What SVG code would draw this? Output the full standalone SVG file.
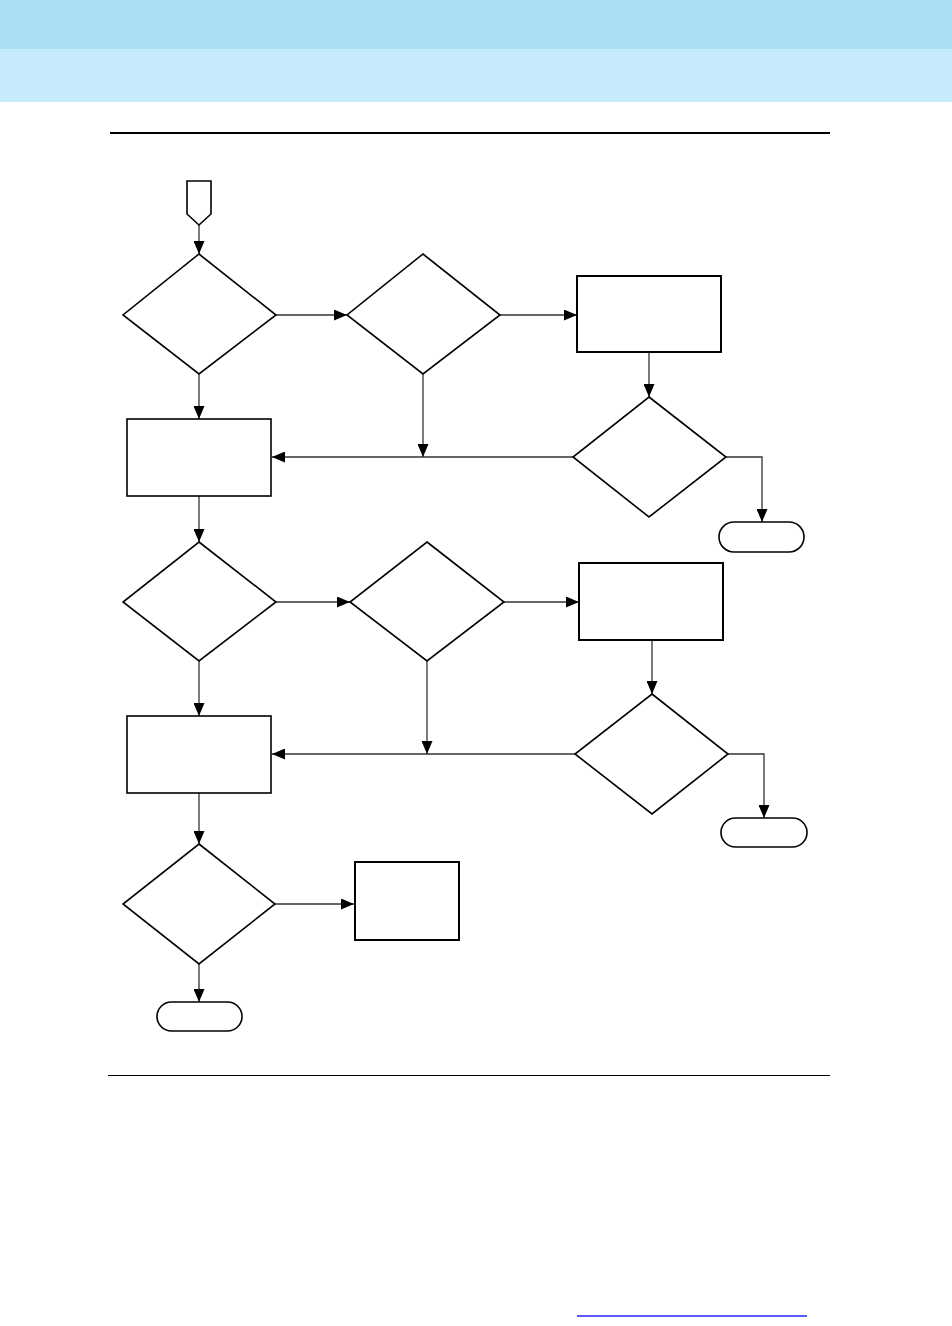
<svg xmlns="http://www.w3.org/2000/svg" width="952" height="1326" viewBox="0 0 952 1326">
<style>
.s{fill:#fff;stroke:#000;stroke-width:1.6}
.r{fill:#fff;stroke:#000;stroke-width:2}
.c{fill:none;stroke:#333;stroke-width:1.3}
</style>
<defs>
<marker id="a" markerWidth="13" markerHeight="11" refX="13" refY="5.5" orient="auto" markerUnits="userSpaceOnUse">
<path d="M0,0 L13,5.5 L0,11 Z" fill="#000"/>
</marker>
</defs>
<rect x="0" y="0" width="952" height="1326" fill="#fff"/>
<rect x="0" y="0" width="952" height="49" fill="#ACDEF6"/>
<rect x="0" y="49" width="952" height="53" fill="#C5EBFD"/>
<line x1="110" y1="133" x2="830" y2="133" stroke="#000" stroke-width="2"/>
<line x1="108" y1="1075.5" x2="830" y2="1075.5" stroke="#000" stroke-width="1"/>
<line x1="577" y1="1316" x2="807" y2="1316" stroke="#2222FF" stroke-width="1.5"/>

<g id="connectors">
<path class="c" d="M199,225 V254" marker-end="url(#a)"/>
<path class="c" d="M276,315 H347" marker-end="url(#a)"/>
<path class="c" d="M500,315 H577" marker-end="url(#a)"/>
<path class="c" d="M649,352 V397" marker-end="url(#a)"/>
<path class="c" d="M726,457 H762 V522" marker-end="url(#a)"/>
<path class="c" d="M573,457 H272" marker-end="url(#a)"/>
<path class="c" d="M423,374 V457" marker-end="url(#a)"/>
<path class="c" d="M199,374 V419" marker-end="url(#a)"/>
<path class="c" d="M199,496 V542" marker-end="url(#a)"/>
<path class="c" d="M276,602 H350" marker-end="url(#a)"/>
<path class="c" d="M504,602 H579" marker-end="url(#a)"/>
<path class="c" d="M652,640 V694" marker-end="url(#a)"/>
<path class="c" d="M728,754 H764 V818" marker-end="url(#a)"/>
<path class="c" d="M575,754 H272" marker-end="url(#a)"/>
<path class="c" d="M427,661 V754" marker-end="url(#a)"/>
<path class="c" d="M199,661 V716" marker-end="url(#a)"/>
<path class="c" d="M199,793 V844" marker-end="url(#a)"/>
<path class="c" d="M275,904 H354" marker-end="url(#a)"/>
<path class="c" d="M199,964 V1002" marker-end="url(#a)"/>
</g>

<g id="start"><path class="s" d="M187,181 H211 V214 L199,225 L187,214 Z"/></g>
<g id="d1"><path class="s" d="M199,254 L276,315 L199,374 L123,315 Z"/></g>
<g id="d2"><path class="s" d="M423,254 L500,315 L423,374 L347,315 Z"/></g>
<g id="p1"><rect class="r" x="577" y="276" width="144" height="76"/></g>
<g id="d3"><path class="s" d="M649,397 L726,457 L649,517 L573,457 Z"/></g>
<g id="t1"><rect class="s" x="719" y="522" width="85" height="30" rx="15"/></g>
<g id="p2"><rect class="s" x="127" y="419" width="144" height="77"/></g>
<g id="d4"><path class="s" d="M199,542 L276,602 L199,661 L123,602 Z"/></g>
<g id="d5"><path class="s" d="M427,542 L504,602 L427,661 L350,602 Z"/></g>
<g id="p3"><rect class="r" x="579" y="563" width="144" height="77"/></g>
<g id="d6"><path class="s" d="M652,694 L728,754 L652,814 L575,754 Z"/></g>
<g id="t2"><rect class="s" x="721" y="818" width="86" height="29" rx="14.5"/></g>
<g id="p4"><rect class="s" x="127" y="716" width="144" height="77"/></g>
<g id="d7"><path class="s" d="M199,844 L275,904 L199,964 L123,904 Z"/></g>
<g id="p5"><rect class="r" x="355" y="862" width="104" height="78"/></g>
<g id="t3"><rect class="s" x="157" y="1002" width="85" height="29" rx="14.5"/></g>
</svg>
